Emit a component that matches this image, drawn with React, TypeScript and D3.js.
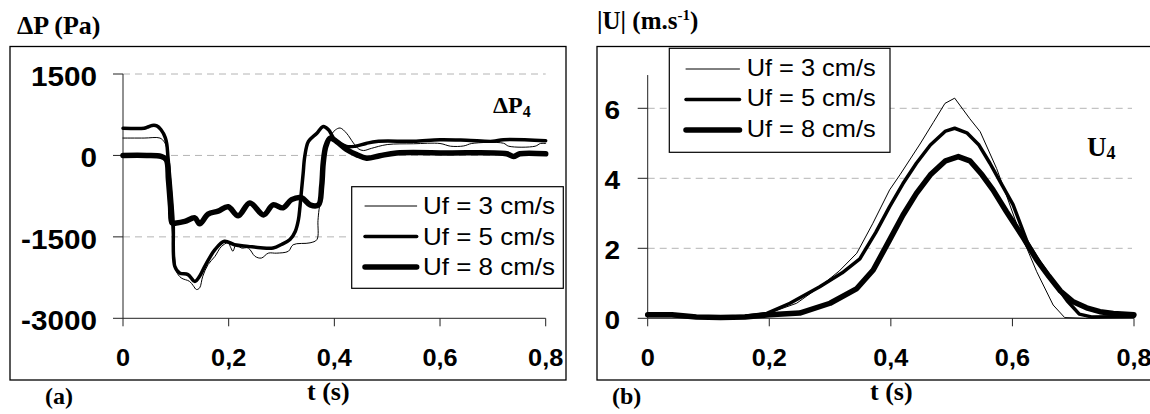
import React from "react";
import * as d3 from "d3";

// ---------- data ----------
const tTicks = [0, 0.2, 0.4, 0.6, 0.8];
const tTickLabels = ["0", "0,2", "0,4", "0,6", "0,8"];
const pTicks = [-3000, -1500, 0, 1500];
const pGrid = [-1500, 0, 1500];
const uTicks = [0, 2, 4, 6];
const uGrid = [2, 4, 6];
const seriesNames = ["Uf = 3 cm/s", "Uf = 5 cm/s", "Uf = 8 cm/s"];

// (a) pressure difference ΔP4 [t (s), Pa]
const pUf3: [number, number][] = [
  [0, 320], [0.04, 320], [0.07, 320], [0.078, 250], [0.082, 166], [0.086, -300], [0.09, -900],
  [0.094, -1500], [0.098, -1900], [0.101, -2135], [0.11, -2255], [0.126, -2320], [0.133, -2400],
  [0.139, -2470], [0.145, -2440], [0.151, -2225], [0.161, -2010], [0.174, -1860], [0.186, -1680],
  [0.199, -1610], [0.204, -1700], [0.208, -1765], [0.214, -1645], [0.224, -1705], [0.237, -1705],
  [0.25, -1860], [0.262, -1890], [0.275, -1800], [0.291, -1800], [0.313, -1765], [0.322, -1645],
  [0.354, -1610], [0.367, -1550], [0.369, -1200], [0.371, -1000], [0.376, -700], [0.38, -400],
  [0.385, 165], [0.394, 380], [0.402, 470], [0.411, 505], [0.423, 410], [0.436, 230], [0.446, 120],
  [0.455, 90], [0.47, 130], [0.5, 200], [0.55, 215], [0.6, 220], [0.62, 170], [0.645, 175],
  [0.66, 220], [0.72, 225], [0.73, 170], [0.78, 170], [0.79, 220], [0.8, 220],
];
const pUf5: [number, number][] = [
  [0, 500], [0.04, 500], [0.046, 520], [0.055, 552], [0.064, 545], [0.072, 473], [0.08, 330],
  [0.083, 200], [0.085, -18], [0.091, -692], [0.095, -1240], [0.098, -2040], [0.107, -2165],
  [0.123, -2195], [0.136, -2320], [0.145, -2225], [0.155, -2040], [0.174, -1735], [0.192, -1580],
  [0.211, -1645], [0.237, -1675], [0.26, -1700], [0.284, -1705], [0.3, -1640], [0.316, -1550],
  [0.326, -1400], [0.332, -1185], [0.335, -940], [0.338, -630], [0.341, -325], [0.344, -20],
  [0.351, 258], [0.367, 410], [0.379, 534], [0.389, 473], [0.401, 290], [0.423, 166], [0.44, 170],
  [0.46, 220], [0.48, 258], [0.55, 262], [0.6, 290], [0.65, 280], [0.7, 260], [0.72, 290], [0.8, 270],
];
const pUf8: [number, number][] = [
  [0, 0], [0.045, 0], [0.072, -18], [0.082, -80], [0.086, -450], [0.09, -940], [0.093, -1245],
  [0.101, -1245], [0.117, -1215], [0.136, -1150], [0.145, -1260], [0.161, -1080], [0.18, -1025],
  [0.199, -945], [0.218, -1110], [0.24, -875], [0.266, -1095], [0.284, -910], [0.303, -965],
  [0.319, -815], [0.338, -780], [0.354, -910], [0.37, -910], [0.376, -565], [0.379, -135],
  [0.384, 170], [0.392, 320], [0.404, 258], [0.423, 110], [0.442, 15], [0.461, -50], [0.486, -5],
  [0.518, 45], [0.613, 45], [0.726, 30], [0.739, -20], [0.751, 30], [0.8, 30],
];

// (b) velocity magnitude U4 [t (s), m/s]
const uUf3: [number, number][] = [
  [0, 0.08], [0.04, 0.08], [0.08, 0.03], [0.12, 0.02], [0.16, 0.05], [0.2, 0.15], [0.245, 0.43],
  [0.283, 0.9], [0.315, 1.35], [0.344, 1.86], [0.37, 2.7], [0.398, 3.67], [0.415, 4.1], [0.448, 4.98],
  [0.47, 5.6], [0.489, 6.14], [0.505, 6.29], [0.53, 5.7], [0.547, 5.33], [0.574, 4.28], [0.59, 3.52],
  [0.612, 2.45], [0.625, 1.95], [0.64, 1.33], [0.667, 0.38], [0.686, 0.02], [0.72, 0.0], [0.76, 0.03],
  [0.8, 0.06],
];
const uUf5: [number, number][] = [
  [0, 0.08], [0.04, 0.08], [0.08, 0.03], [0.12, 0.02], [0.16, 0.06], [0.196, 0.14], [0.234, 0.43],
  [0.283, 0.9], [0.32, 1.3], [0.349, 1.7], [0.375, 2.45], [0.398, 3.19], [0.42, 3.85], [0.442, 4.43],
  [0.465, 4.95], [0.49, 5.35], [0.505, 5.43], [0.525, 5.3], [0.545, 4.95], [0.563, 4.43], [0.58, 3.9],
  [0.601, 3.25], [0.625, 2.15], [0.645, 1.6], [0.667, 1.05], [0.69, 0.5], [0.71, 0.12], [0.73, 0.04],
  [0.8, 0.05],
];
const uUf8: [number, number][] = [
  [0, 0.1], [0.04, 0.1], [0.08, 0.04], [0.12, 0.02], [0.16, 0.04], [0.2, 0.1], [0.25, 0.15],
  [0.3, 0.43], [0.344, 0.85], [0.371, 1.38], [0.398, 2.24], [0.42, 2.95], [0.442, 3.57], [0.465, 4.1],
  [0.49, 4.5], [0.511, 4.62], [0.53, 4.5], [0.55, 4.1], [0.568, 3.67], [0.59, 3.05], [0.618, 2.3],
  [0.64, 1.67], [0.66, 1.2], [0.679, 0.78], [0.7, 0.47], [0.722, 0.3], [0.744, 0.19], [0.766, 0.14],
  [0.8, 0.1],
];

const widths = [1, 3.5, 5.5];

const SANS = "'Liberation Sans', Arial, sans-serif";
const SERIF = "'Liberation Serif', 'Times New Roman', serif";

function SText(props: {
  x: number; y: number; sx?: number; size: number; anchor?: string; family?: string;
  weight?: string; children: React.ReactNode;
}) {
  const { x, y, sx = 1, size, anchor = "start", family = SANS, weight = "bold", children } = props;
  return (
    <text
      transform={`translate(${x},${y}) scale(${sx},1)`}
      textAnchor={anchor}
      fontFamily={family}
      fontWeight={weight}
      fontSize={size}
      fill="#000"
    >
      {children}
    </text>
  );
}

export default function App() {
  // left chart scales
  const xL = d3.scaleLinear().domain([0, 0.8]).range([123, 545.7]);
  const yL = d3.scaleLinear().domain([-3000, 1500]).range([318.3, 74]);
  // right chart scales
  const xR = d3.scaleLinear().domain([0, 0.8]).range([647.7, 1134]);
  const yR = d3.scaleLinear().domain([0, 7]).range([318.3, 73.3]);

  const lineL = d3
    .line<[number, number]>()
    .x((d) => xL(d[0]))
    .y((d) => yL(d[1]))
    .curve(d3.curveCatmullRom.alpha(0.5));
  const lineR = d3.line<[number, number]>().x((d) => xR(d[0])).y((d) => yR(d[1]));

  const pSeries = [pUf3, pUf5, pUf8];
  const uSeries = [uUf3, uUf5, uUf8];

  return (
    <svg
      width={1150}
      height={414}
      style={{ position: "absolute", left: 0, top: 0, background: "#fff" }}
    >
      <rect x={0} y={0} width={1150} height={414} fill="#fff" />

      {/* ================= (a) ================= */}
      <rect x={10} y={46.5} width={556} height={333.5} fill="none" stroke="#000" strokeWidth={1.3} />
      {pGrid.map((v) => (
        <line key={v} x1={xL(0)} x2={xL(0.8)} y1={yL(v)} y2={yL(v)} stroke="#b4b4b4" strokeWidth={1} strokeDasharray="7,5" />
      ))}
      <line x1={xL(0)} x2={xL(0)} y1={yL(1500)} y2={yL(-3000)} stroke="#222" strokeWidth={1} />
      <line x1={xL(0)} x2={xL(0.8)} y1={yL(-3000)} y2={yL(-3000)} stroke="#222" strokeWidth={1} />
      {pTicks.map((v) => (
        <g key={v}>
          <line x1={xL(0) - 10} x2={xL(0)} y1={yL(v)} y2={yL(v)} stroke="#222" />
          <SText x={97} y={yL(v) + 12} sx={1.06} size={28} anchor="end">{String(v)}</SText>
        </g>
      ))}
      {tTicks.map((t, i) => (
        <g key={t}>
          <line x1={xL(t)} x2={xL(t)} y1={yL(-3000)} y2={yL(-3000) + 8} stroke="#222" />
          <SText x={xL(t)} y={365.5} sx={1.1} size={23} anchor="middle">{tTickLabels[i]}</SText>
        </g>
      ))}
      {pSeries.map((s, i) => (
        <path key={i} d={lineL(s) || ""} fill="none" stroke="#000" strokeWidth={widths[i]} strokeLinejoin="round" strokeLinecap="round" />
      ))}
      {/* legend (a) */}
      <rect x={351.7} y={186.7} width={211.6} height={101.6} fill="#fff" stroke="#000" strokeWidth={1.2} />
      {seriesNames.map((n, i) => (
        <g key={n}>
          <line x1={365} x2={416.7} y1={206 + i * 30.5} y2={206 + i * 30.5} stroke="#000" strokeWidth={widths[i]} strokeLinecap="round" />
          <SText x={423} y={214 + i * 30.5} sx={1.06} size={24.5} weight="normal">{n}</SText>
        </g>
      ))}
      <text x={493} y={113} fontFamily={SERIF} fontWeight="bold" fontSize={24}>
        ΔP<tspan fontSize={16} dy={4}>4</tspan>
      </text>
      <text x={17} y={34} fontFamily={SERIF} fontWeight="bold" fontSize={26}>ΔP (Pa)</text>
      <text x={45} y={404} fontFamily={SERIF} fontWeight="bold" fontSize={24}>(a)</text>
      <text x={307} y={400} fontFamily={SERIF} fontWeight="bold" fontSize={26}>t (s)</text>

      {/* ================= (b) ================= */}
      <rect x={597} y={46.5} width={600} height={333.5} fill="none" stroke="#000" strokeWidth={1.3} />
      {uGrid.map((v) => (
        <line key={v} x1={xR(0)} x2={1132} y1={yR(v)} y2={yR(v)} stroke="#b4b4b4" strokeWidth={1} strokeDasharray="7,5" />
      ))}
      <line x1={xR(0)} x2={xR(0)} y1={yR(6.95)} y2={yR(0)} stroke="#222" strokeWidth={1} />
      <line x1={xR(0)} x2={xR(0.8)} y1={yR(0)} y2={yR(0)} stroke="#222" strokeWidth={1} />
      {uTicks.map((v) => (
        <g key={v}>
          <line x1={xR(0) - 10} x2={xR(0)} y1={yR(v)} y2={yR(v)} stroke="#222" />
          <SText x={620} y={yR(v) + 10.5} sx={1.1} size={25.5} anchor="end">{String(v)}</SText>
        </g>
      ))}
      {tTicks.map((t, i) => (
        <g key={t}>
          <line x1={xR(t)} x2={xR(t)} y1={yR(0)} y2={yR(0) + 8} stroke="#222" />
          <SText x={xR(t)} y={365.5} sx={1.1} size={23} anchor="middle">{tTickLabels[i]}</SText>
        </g>
      ))}
      {uSeries.map((s, i) => (
        <path key={i} d={lineR(s) || ""} fill="none" stroke="#000" strokeWidth={widths[i]} strokeLinejoin="round" strokeLinecap="round" />
      ))}
      {/* legend (b) */}
      <rect x={669.3} y={48.3} width={220.7} height={104} fill="#fff" stroke="#000" strokeWidth={1.2} />
      {seriesNames.map((n, i) => (
        <g key={n}>
          <line x1={686} x2={739.5} y1={69 + i * 30.5} y2={69 + i * 30.5} stroke="#000" strokeWidth={widths[i]} strokeLinecap="round" />
          <SText x={746.7} y={75.5 + i * 30.5} sx={1.08} size={23.5} weight="normal">{n}</SText>
        </g>
      ))}
      <text x={1087} y={156} fontFamily={SERIF} fontWeight="bold" fontSize={27}>
        U<tspan fontSize={18} dy={3}>4</tspan>
      </text>
      <text x={597} y={29} fontFamily={SERIF} fontWeight="bold" fontSize={25}>
        |U| (m.s<tspan fontSize={15} dy={-9}>-1</tspan><tspan dy={9}>)</tspan>
      </text>
      <text x={612} y={404} fontFamily={SERIF} fontWeight="bold" fontSize={24}>(b)</text>
      <text x={870} y={400} fontFamily={SERIF} fontWeight="bold" fontSize={26}>t (s)</text>
    </svg>
  );
}
